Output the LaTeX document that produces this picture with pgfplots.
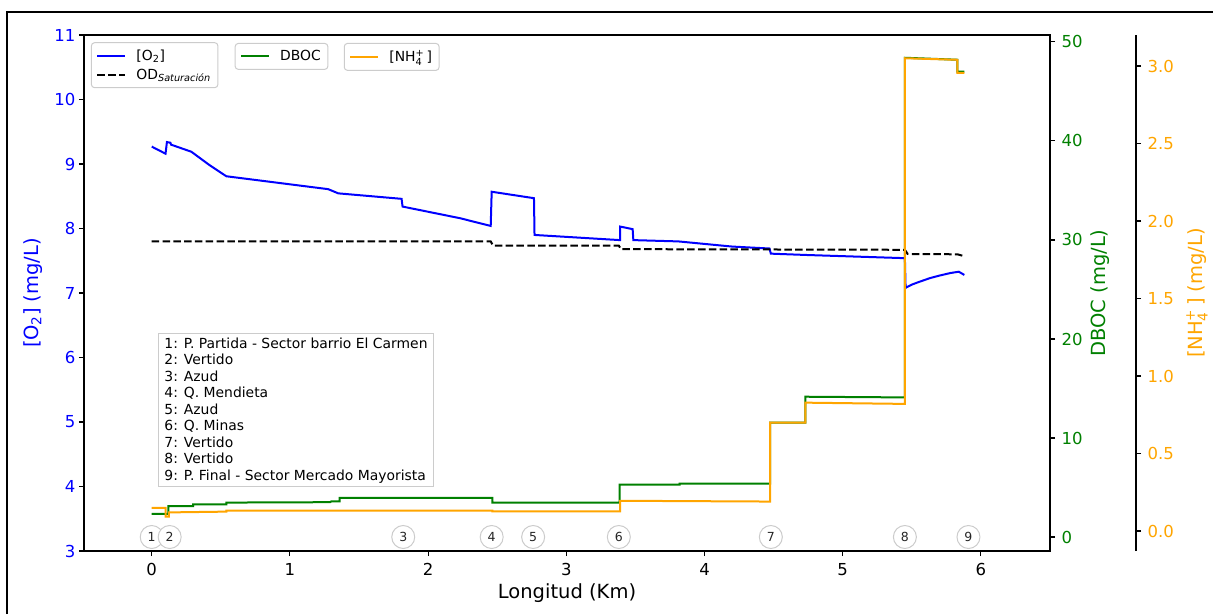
\documentclass[border=0pt]{standalone}
\usepackage{pgfplots}
\pgfplotsset{compat=1.18}
\usepackage{fontspec}
\setmainfont{DejaVu Sans}
\definecolor{mplblue}{RGB}{0,0,255}
\definecolor{mplgreen}{RGB}{0,128,0}
\definecolor{mplorange}{RGB}{255,165,0}
\newcommand{\tickfont}{\fontsize{16.5}{19}\selectfont}
\newcommand{\labfont}{\fontsize{19.5}{22}\selectfont}
\newcommand{\legfont}{\fontsize{13.9}{16}\selectfont}
\makeatletter
\newcommand{\NHf}{NH$^{\mbox{\fontsize\sf@size\z@\selectfont +}}_{\mbox{\fontsize\sf@size\z@\selectfont 4}}$}
\makeatother

\pgfplotsset{
  base/.style={
    at={(84pt,63pt)}, anchor=south west,
    width=966pt, height=516pt, scale only axis,
    xmin=-0.49, xmax=6.5,
    tick align=outside, major tick length=5pt,
    every tick/.style={black, line width=1.1pt},
    axis line style={black, line width=1.1pt},
    /pgf/number format/assume math mode=true,
    tick label style={font=\tickfont},
    legend cell align=left,
    legend style={font=\legfont, draw=black!20, line width=1pt, rounded corners=3pt,
      fill=white, fill opacity=0.8, text opacity=1, anchor=north west,
      inner xsep=5pt, inner ysep=5pt, row sep=3pt,
      /tikz/every odd column/.append style={column sep=8pt}},
    legend image code/.code={\draw[#1] (0pt,0pt) -- (28pt,0pt);},
  },
}

\begin{document}
\begin{tikzpicture}
\useasboundingbox (0,0) rectangle (1213pt,614pt);

% ---------------- O2 axis ----------------
\begin{axis}[base,
  ymin=3, ymax=11, ytick={3,4,5,6,7,8,9,10,11},
  xtick={0,1,2,3,4,5,6},
  xtick pos=left, ytick pos=left,
  yticklabel style={text=mplblue},
  xticklabel style={yshift=-4pt},
  xlabel={Longitud (Km)},
  ylabel={[O\textsubscript{2}] (mg/L)},
  every axis x label/.style={at={(rel axis cs:0.5,0)}, yshift=-42pt, anchor=center, font=\labfont},
  every axis y label/.style={at={(rel axis cs:0,0.5)}, xshift=-51pt, anchor=center, rotate=90, font=\labfont, text=mplblue},
  legend style={at={(0.0072,0.986)}},
]
\addplot[mplblue, line width=2pt] coordinates {
(0,9.27) (0.10,9.16) (0.11,9.34) (0.135,9.33) (0.14,9.30) (0.287,9.19) (0.42,8.98)
(0.54,8.81) (1.277,8.61) (1.35,8.545) (1.808,8.46) (1.815,8.34) (2.23,8.16)
(2.453,8.04) (2.46,8.57) (2.766,8.47) (2.77,7.90) (3.389,7.82) (3.39,8.03)
(3.48,7.99) (3.485,7.82) (3.81,7.80) (4.2,7.72) (4.47,7.69) (4.48,7.61)
(4.73,7.59) (5.45,7.54) (5.455,7.08) (5.5,7.13) (5.55,7.17) (5.63,7.23)
(5.7,7.27) (5.78,7.31) (5.84,7.33) (5.88,7.28)};
\addlegendentry{[O\textsubscript{2}]}
\addplot[black, line width=2pt, dash pattern=on 7.5pt off 3.3pt] coordinates {
(0,7.80) (2.453,7.80) (2.47,7.735) (3.38,7.735) (3.395,7.68) (5.45,7.67)
(5.47,7.605) (5.83,7.60) (5.88,7.57)};
\addlegendentry{OD\textsubscript{\textit{Saturación}}}
\addplot[forget plot, draw=none, mark=none, nodes near coords, point meta=explicit symbolic,
  every node near coord/.style={anchor=center, circle, draw=black!20, fill=white, line width=1pt,
    minimum size=23pt, inner sep=0pt, font=\fontsize{12.5}{14}\selectfont, text=black!85}]
  coordinates {(0,3.217)[1] (0.13,3.217)[2] (1.82,3.217)[3] (2.46,3.217)[4] (2.76,3.217)[5]
  (3.38,3.217)[6] (4.48,3.217)[7] (5.45,3.217)[8] (5.91,3.217)[9]};
\node[draw=black!20, line width=1pt, fill=white, anchor=north west, align=left,
  font=\fontsize{13.9}{16.5}\selectfont, inner xsep=6pt, inner ysep=4pt]
  at (rel axis cs:0.0766,0.4225) {1: P. Partida - Sector barrio El Carmen\\2: Vertido\\3: Azud\\4: Q. Mendieta\\5: Azud\\6: Q. Minas\\7: Vertido\\8: Vertido\\9: P. Final - Sector Mercado Mayorista};
\end{axis}

% ---------------- DBOC axis ----------------
\begin{axis}[base,
  ymin=-1.41, ymax=50.7, ytick={0,10,20,30,40,50},
  axis x line=none, axis y line*=right,
  yticklabel style={text=mplgreen, xshift=3pt},
  ylabel={DBOC (mg/L)},
  every axis y label/.style={at={(rel axis cs:1,0.5)}, xshift=50pt, anchor=center, rotate=90, font=\labfont, text=mplgreen},
  legend style={at={(0.156,0.9845)}},
]
\addplot[mplgreen, line width=2pt] coordinates {
(0,2.33) (0.12,2.33) (0.12,3.13) (0.30,3.13) (0.30,3.3) (0.54,3.3) (0.54,3.48)
(1.29,3.52) (1.30,3.6) (1.36,3.6) (1.36,3.95) (2.465,3.95) (2.465,3.48)
(3.385,3.48) (3.385,5.3) (3.82,5.3) (3.82,5.4) (4.475,5.4) (4.475,11.55)
(4.73,11.55) (4.73,14.17) (5.45,14.1) (5.45,48.4) (5.83,48.2) (5.83,47.0) (5.88,47.0)};
\addlegendentry{DBOC}
\end{axis}

% ---------------- NH4 axis ----------------
\begin{axis}[base,
  ymin=-0.129, ymax=3.2, ytick={0,0.5,1,1.5,2,2.5,3},
  axis x line=none, axis y line*=right,
  y axis line style={xshift=86pt},
  ytick style={xshift=86pt},
  yticklabel style={text=mplorange, xshift=89pt, /pgf/number format/fixed,
    /pgf/number format/fixed zerofill, /pgf/number format/precision=1},
  ylabel={[\NHf\,] (mg/L)},
  every axis y label/.style={at={(rel axis cs:1,0.5)}, xshift=147pt, anchor=center, rotate=90, font=\labfont, text=mplorange},
  legend style={at={(0.269,0.9845)}},
]
\addplot[mplorange, line width=2pt] coordinates {
(0,0.149) (0.10,0.149) (0.10,0.092) (0.125,0.092) (0.125,0.12) (0.54,0.125)
(0.54,0.131) (2.465,0.131) (2.465,0.127) (3.39,0.127) (3.39,0.195) (4.475,0.19)
(4.475,0.70) (4.73,0.70) (4.73,0.828) (5.45,0.82) (5.45,3.05) (5.83,3.04)
(5.83,2.955) (5.88,2.955)};
\addlegendentry{[\NHf\,]}
\end{axis}

\draw[black, line width=2.2pt] (7pt,0pt) -- (7pt,602pt) -- (1213pt,602pt);
\end{tikzpicture}
\end{document}
